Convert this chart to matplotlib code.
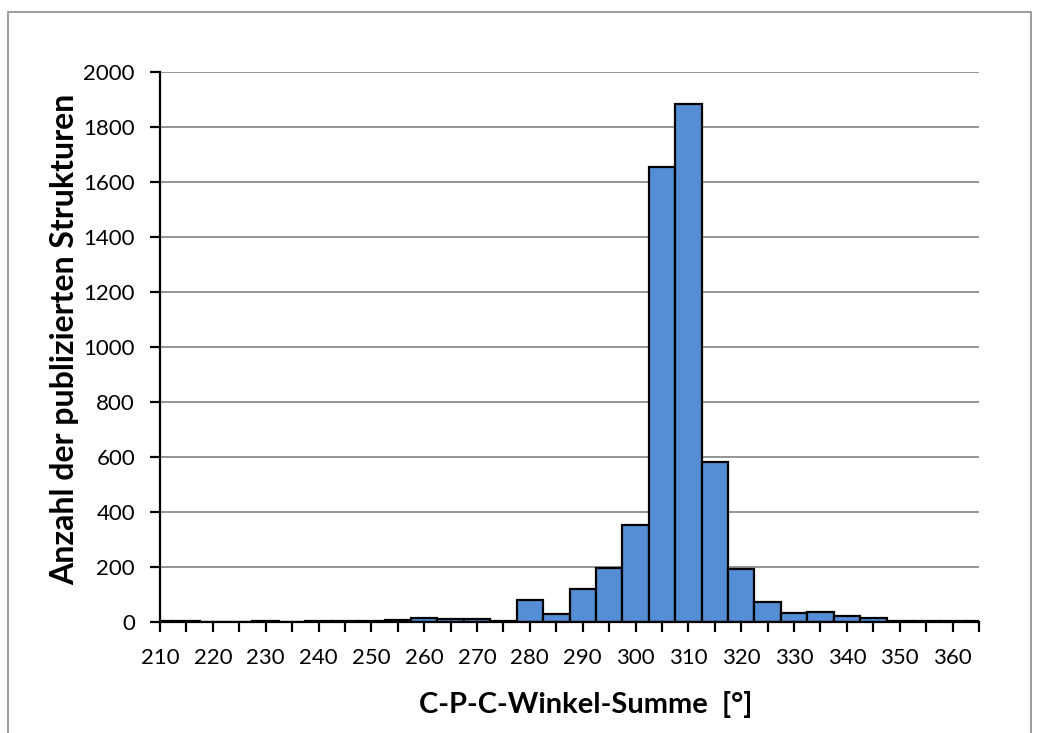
import numpy as np
import matplotlib.pyplot as plt
from matplotlib.patches import Rectangle

# bin centres (C-P-C angle sum, 5 degree bins) and counts
bin_centres = [210, 215, 220, 225, 230, 235, 240, 245, 250, 255,
               260, 265, 270, 275, 280, 285, 290, 295, 300, 305,
               310, 315, 320, 325, 330, 335, 340, 345, 350, 355,
               360, 365]
counts = [1, 1, 0, 0, 1, 0, 1, 2, 4, 6,
          15, 9, 9, 2, 78, 28, 119, 194, 353, 1654,
          1886, 583, 193, 73, 33, 35, 21, 14, 2, 1,
          4, 1]
major_ticks = list(range(210, 361, 10))
minor_ticks = list(range(215, 366, 10))
y_ticks = list(range(0, 2001, 200))

plt.rcParams['font.family'] = ['Lato', 'DejaVu Sans']

W, H = 1040, 733
fig = plt.figure(figsize=(W / 100, H / 100), dpi=100)
ax = fig.add_axes([160 / W, 1 - 621.7 / H, (979 - 160) / W, (621.7 - 72.3) / H])

# chart-area border
fig.patches.append(Rectangle((8 / W, -0.02), (1031 - 8) / W, 1.02 - 12 / H,
                             transform=fig.transFigure, fill=False,
                             edgecolor='#8c8c8c', linewidth=1.2))

ax.bar(bin_centres, counts, width=5, color='#558ED5', edgecolor='black',
       linewidth=1.6, zorder=3)

ax.set_xlim(210, 365)
ax.set_ylim(0, 2000)
ax.set_xticks(major_ticks)
ax.set_xticks(minor_ticks, minor=True)
ax.set_yticks(y_ticks)

ax.grid(axis='y', color='#8c8c8c', linewidth=1.3, zorder=0)
ax.set_axisbelow(True)

for s in ['top', 'right']:
    ax.spines[s].set_visible(False)
for s in ['left', 'bottom']:
    ax.spines[s].set_linewidth(1.6)
    ax.spines[s].set_zorder(4)

ax.tick_params(axis='both', which='both', direction='out', length=7, width=1.6,
               labelsize=16, color='black')
ax.tick_params(axis='y', pad=11)
ax.tick_params(axis='x', pad=12)

fig.text(586 / W, 1 - 704 / H, 'C-P-C-Winkel-Summe  [°]', fontsize=21,
         fontweight='bold', ha='center', va='center')
fig.text(65 / W, 1 - 339 / H, 'Anzahl der publizierten Strukturen', fontsize=23,
         fontweight='bold', ha='center', va='center', rotation=90)

fig.savefig('out.png', dpi=100)
